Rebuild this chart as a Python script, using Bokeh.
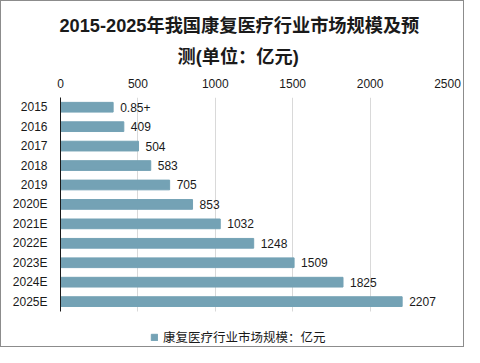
from bokeh.plotting import figure
from bokeh.models import ColumnDataSource, Range1d, Legend, LegendItem, Title, FixedTicker
from bokeh.core.properties import value
from bokeh.embed import file_html
from bokeh.resources import INLINE

years = ["2015", "2016", "2017", "2018", "2019", "2020E", "2021E", "2022E", "2023E", "2024E", "2025E"]
values = [340, 409, 504, 583, 705, 853, 1032, 1248, 1509, 1825, 2207]
labels = ["0.85+", "409", "504", "583", "705", "853", "1032", "1248", "1509", "1825", "2207"]
x_ticks = [0, 500, 1000, 1500, 2000, 2500]
title_line1 = "2015-2025年我国康复医疗行业市场规模及预"
title_line2 = "测(单位：亿元)"
legend_text = "康复医疗行业市场规模：亿元"

FONT = "Liberation Sans, Noto Sans CJK SC"
CJK = "Noto Sans CJK SC"
BAR = "#74a2b5"
TXT = "#1a1a1a"

n = len(years)
ypos = [n - 1 - i for i in range(n)]  # first year at the top
src = ColumnDataSource(dict(y=ypos, x=values, lab=labels))

p = figure(width=464, height=347, output_backend="svg", toolbar_location=None,
           y_range=Range1d(-2.36, n - 0.5), x_range=Range1d(0, 2500), x_axis_location="above",
           min_border_left=59, min_border_right=18, min_border_top=96, min_border_bottom=1)
p.outline_line_color = None
p.styles = {"border": "1px solid #8c8c8c", "box-sizing": "border-box"}

r = p.hbar(y="y", right="x", left=0, height=0.5, color=BAR, source=src)
p.text(x="x", y="y", text="lab", source=src, x_offset=7, text_baseline="middle",
       text_font=value(FONT), text_font_size="12px", text_color=TXT)

p.xaxis.ticker = x_ticks
p.xaxis.axis_line_color = None
p.xaxis.major_tick_line_color = None
p.xaxis.minor_tick_line_color = None
p.xaxis.major_tick_out = 0
p.xaxis.minor_tick_out = 0
p.xaxis.major_label_text_font = FONT
p.xaxis.major_label_text_font_size = "12px"
p.xaxis.major_label_text_color = TXT
p.xaxis.major_label_standoff = 10

p.yaxis.ticker = FixedTicker(ticks=ypos)
p.yaxis.major_label_overrides = {yy: yr for yy, yr in zip(ypos, years)}
p.yaxis.bounds = (-0.5, n - 0.5)
p.yaxis.axis_line_color = TXT
p.yaxis.major_tick_line_color = None
p.yaxis.minor_tick_line_color = None
p.yaxis.major_tick_out = 0
p.yaxis.minor_tick_out = 0
p.yaxis.major_label_text_font = FONT
p.yaxis.major_label_text_font_size = "12px"
p.yaxis.major_label_text_color = TXT
p.yaxis.major_label_standoff = 13

p.xgrid.grid_line_color = "#d9d9d9"
p.xgrid.cross_bounds = (-0.5, n - 0.5)
p.ygrid.grid_line_color = None

t2 = Title(text=title_line2, align="left", offset=117, standoff=18, text_font=FONT,
           text_font_size="18.2px", text_font_style="bold", text_color=TXT)
t1 = Title(text=title_line1, align="left", offset=-1, standoff=0, text_font=FONT,
           text_font_size="18.2px", text_font_style="bold", text_color=TXT)
p.add_layout(t2, "above")
p.add_layout(t1, "above")

leg = Legend(items=[LegendItem(label=legend_text, renderers=[r])],
             location=(90, 1), orientation="horizontal",
             glyph_width=8, glyph_height=8, label_standoff=5, padding=0, margin=0,
             border_line_color=None, background_fill_alpha=0,
             label_text_font=CJK, label_text_font_size="12.5px", label_text_color=TXT)
p.add_layout(leg, "center")

open("out.html", "w").write(file_html(p, INLINE))
